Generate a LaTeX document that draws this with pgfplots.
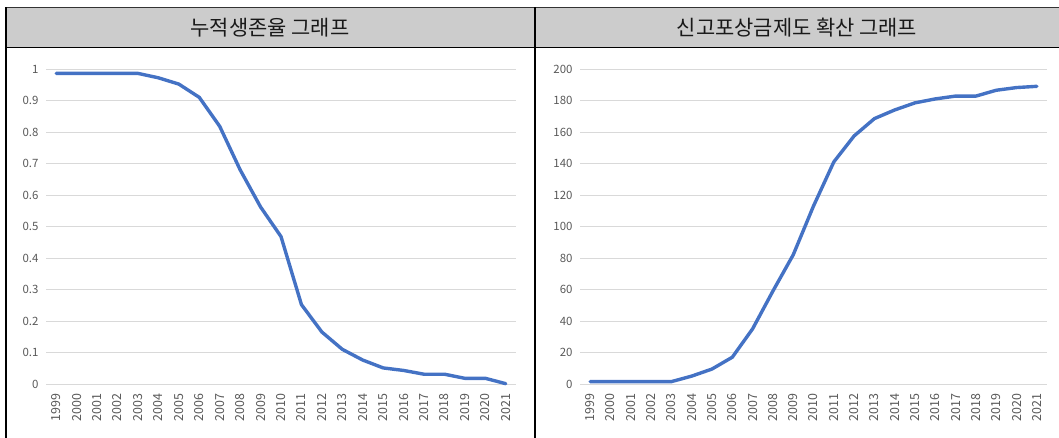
\documentclass[border=0pt]{standalone}
\usepackage{pgfplots}
\pgfplotsset{compat=1.18}
\usepackage{fontspec}
\setmainfont{Noto Sans CJK KR}
\definecolor{linecol}{HTML}{4472C4}
\definecolor{gridcol}{HTML}{D9D9D9}
\definecolor{tickcol}{HTML}{595959}
\definecolor{headcol}{HTML}{CCCCCC}
\pgfplotsset{
  mychart/.style={
    scale only axis, width=#1,
    height=315bp,
    anchor=south west,
    xmin=-0.5, xmax=22.5,
    axis line style={draw=none},
    major tick length=0pt,
    ymajorgrids, grid style={gridcol, line width=0.8bp},
    xtick={0,...,22},
    xticklabels={1999,2000,2001,2002,2003,2004,2005,2006,2007,2008,2009,2010,2011,2012,2013,2014,2015,2016,2017,2018,2019,2020,2021},
    xticklabel style={rotate=90, anchor=east, font=\fontsize{12.5}{14}\selectfont, text=tickcol, xshift=-6bp},
    yticklabel style={anchor=east, font=\fontsize{11.5}{13}\selectfont, text=tickcol, xshift=-4bp},
    /pgf/number format/assume math mode=true,
    clip=false,
  }
}
\begin{document}
\begin{tikzpicture}[x=1bp,y=1bp]
\useasboundingbox (0,0) rectangle (1059,438);
\fill[headcol] (6,390.5) rectangle (1059,430.5);
\draw[line width=1.6bp, black!80] (6,430.5) -- (1059,430.5);
\draw[line width=1.2bp, black] (6,390.5) -- (1059,390.5);
\draw[line width=1.2bp, black] (6,430.5) -- (6,0);
\draw[line width=1.2bp, black] (535,430.5) -- (535,0);
\node[font=\fontsize{21}{24}\selectfont, text=black!90] at (270,410.5) {누적생존율 그래프};
\node[font=\fontsize{21}{24}\selectfont, text=black!90] at (797,410.5) {신고포상금제도 확산 그래프};

\begin{axis}[mychart=470bp, at={(46bp,54bp)},
  ymin=0, ymax=1,
  ytick={0,0.1,0.2,0.3,0.4,0.5,0.6,0.7,0.8,0.9,1},
  yticklabels={0,0.1,0.2,0.3,0.4,0.5,0.6,0.7,0.8,0.9,1}]
\addplot[linecol, line width=3.4bp, line join=round, line cap=round] coordinates {
(0,0.986) (1,0.986) (2,0.986) (3,0.986) (4,0.986) (5,0.972) (6,0.952) (7,0.910)
(8,0.818) (9,0.680) (10,0.562) (11,0.468) (12,0.252) (13,0.165) (14,0.110)
(15,0.076) (16,0.051) (17,0.043) (18,0.031) (19,0.031) (20,0.018) (21,0.018) (22,0.001)
};
\end{axis}

\begin{axis}[mychart=467bp, at={(580bp,54bp)},
  ymin=0, ymax=200,
  ytick={0,20,...,200}]
\addplot[linecol, line width=3.4bp, line join=round, line cap=round] coordinates {
(0,1.5) (1,1.5) (2,1.5) (3,1.5) (4,1.5) (5,5) (6,9.5) (7,17) (8,35) (9,59)
(10,82) (11,113) (12,141) (13,157.5) (14,168.5) (15,174) (16,178.5) (17,181)
(18,182.8) (19,182.8) (20,186.5) (21,188.2) (22,189)
};
\end{axis}
\end{tikzpicture}
\end{document}
